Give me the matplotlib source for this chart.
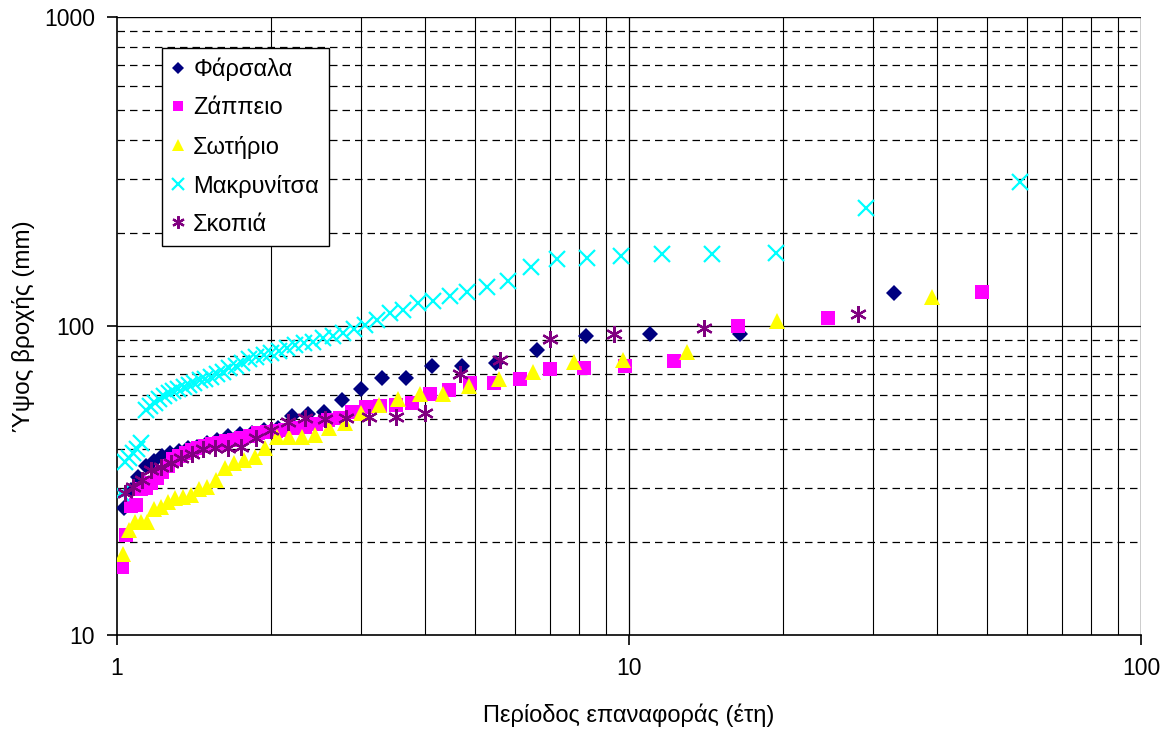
import matplotlib
matplotlib.use("Agg")
import matplotlib.pyplot as plt
from matplotlib.ticker import LogLocator, NullFormatter, FixedLocator, FixedFormatter

plt.rcParams['font.family'] = ['Liberation Sans', 'DejaVu Sans']

# ---- data: return period T (years) and rainfall height (mm) ----
farsala_T = [33.0, 16.5, 11.0, 8.25, 6.6, 5.5, 4.714, 4.125, 3.667, 3.3, 3.0, 2.75,
             2.538, 2.357, 2.2, 2.0625, 1.941, 1.833, 1.737, 1.65, 1.571, 1.5, 1.435,
             1.375, 1.32, 1.269, 1.222, 1.179, 1.138, 1.1, 1.0645, 1.031]
farsala_P = [128, 94.2, 94.5, 93, 83.6, 76, 74, 74, 68, 68, 62.7, 57.5,
             52.7, 52, 51, 46.7, 46, 45, 44.7, 44, 42.8, 41.7, 40.5,
             40.3, 39.4, 38.8, 37.9, 36.6, 35.3, 32.4, 29.5, 25.8]

zappeio_T = [49.0, 24.5, 16.33, 12.25, 9.8, 8.167, 7.0, 6.125, 5.444, 4.9, 4.4545,
             4.083, 3.769, 3.5, 3.267, 3.0625, 2.882, 2.722, 2.579, 2.45, 2.333,
             2.227, 2.13, 2.042, 1.96, 1.885, 1.815, 1.75, 1.69, 1.633, 1.581,
             1.531, 1.485, 1.441, 1.4, 1.361, 1.324, 1.289, 1.256, 1.225, 1.195,
             1.167, 1.1395, 1.1136, 1.0889, 1.0652, 1.0426, 1.0208]
zappeio_P = [128.8, 106, 100, 77, 74, 73, 72.5, 67.3, 65.5, 65.5, 62.1,
             60.4, 56.4, 55.5, 55.2, 54.8, 52.7, 50.4, 49.7, 48.2, 47.1,
             46.7, 46.1, 45.7, 45.3, 45.0, 44.1, 43.4, 42.8, 42.5, 41.7,
             41.5, 40.9, 40.3, 39.7, 38.8, 37.9, 37.1, 35.2, 33.7, 32.2,
             31.0, 29.9, 29.7, 26.3, 26.2, 21.1, 16.6]

sotirio_T = [39.0, 19.5, 13.0, 9.75, 7.8, 6.5, 5.571, 4.875, 4.333, 3.9, 3.545, 3.25,
             3.0, 2.786, 2.6, 2.4375, 2.294, 2.167, 2.053, 1.95, 1.857, 1.773, 1.696,
             1.625, 1.56, 1.5, 1.444, 1.393, 1.345, 1.3, 1.258, 1.219, 1.182, 1.147,
             1.114, 1.083, 1.054, 1.026]
sotirio_P = [124, 104, 82.5, 77.5, 76.5, 71.1, 67.3, 64, 60.4, 60.4, 58.1, 55.5,
             52.2, 48.5, 46.8, 44.4, 43.8, 43.8, 43.8, 40.3, 37.6, 36.8, 36.0,
             34.6, 31.7, 30.2, 29.7, 28.4, 27.9, 27.7, 26.9, 25.9, 25.6, 23.2,
             23.2, 23.2, 21.9, 18.3]

makrynitsa_T = [58.0, 29.0, 19.33, 14.5, 11.6, 9.667, 8.286, 7.25, 6.444, 5.8, 5.273,
                4.833, 4.462, 4.143, 3.867, 3.625, 3.412, 3.222, 3.053, 2.9, 2.762,
                2.636, 2.522, 2.417, 2.32, 2.231, 2.148, 2.071, 2.0, 1.933, 1.871,
                1.8125, 1.758, 1.706, 1.657, 1.611, 1.5676, 1.526, 1.487, 1.45, 1.415,
                1.381, 1.349, 1.318, 1.289, 1.261, 1.234, 1.208, 1.184, 1.16, 1.137,
                1.1154, 1.0943, 1.074, 1.0545, 1.0357, 1.0175]
makrynitsa_P = [292, 241, 172, 171, 171, 169, 166, 165, 155, 140, 134,
                129, 125, 120.6, 118.9, 113, 110.5, 104.6, 100.7, 97.8, 95,
                93, 91.5, 88.9, 88.3, 86.8, 84.9, 83.1, 81.8, 80.5, 79.3,
                78.1, 75.8, 74.2, 73.0, 71.0, 70.0, 68.5, 67.4, 66.9, 65.5,
                64.3, 63.4, 62.5, 61.6, 60.6, 59.4, 58.0, 56.4, 54.9, 53.6,
                41.7, 40.0, 38.8, 37.4, 36.3, 28.8]

skopia_T = [28.0, 14.0, 9.333, 7.0, 5.6, 4.667, 4.0, 3.5, 3.111, 2.8, 2.545, 2.333,
            2.154, 2.0, 1.867, 1.75, 1.647, 1.556, 1.474, 1.4, 1.333, 1.273, 1.217,
            1.1667, 1.12, 1.077, 1.037]
skopia_P = [109.4, 98.6, 94.4, 90.6, 77.5, 70, 52.3, 50.8, 50.8, 50.4, 50, 50.4,
            48.9, 46.1, 43.4, 40.6, 40.3, 40.3, 40.0, 38.5, 37.4, 36.0, 35.0,
            34.2, 31.8, 30.1, 28.8]

series_names = ['Φάρσαλα', 'Ζάππειο', 'Σωτήριο', 'Μακρυνίτσα', 'Σκοπιά']
x_label = 'Περίοδος επαναφοράς (έτη)'
y_label = 'Ύψος βροχής (mm)'
x_ticks = [1, 10, 100]
y_ticks = [10, 100, 1000]

fig = plt.figure(figsize=(11.71, 7.29), dpi=100)
ax = fig.add_axes([117/1171, 1 - 635/729, 1024/1171, 618/729])
ax.set_xscale('log')
ax.set_yscale('log')
ax.set_xlim(1, 100)
ax.set_ylim(10, 1000)

# grid
for d in (1, 10):
    for k in range(2, 10):
        ax.axvline(d * k, color='black', lw=0.8, zorder=0)
ax.axvline(10, color='black', lw=0.9, zorder=0)
ax.axvline(100, color='black', lw=1.0, zorder=0)
for d in (10, 100):
    for k in range(2, 10):
        ax.axhline(d * k, color='black', lw=0.9, ls=(0, (6, 4)), zorder=0)
ax.axhline(100, color='black', lw=0.9, zorder=0)
ax.axhline(1000, color='black', lw=1.0, zorder=0)

ms = dict(linestyle='none', zorder=3)
ax.plot(farsala_T, farsala_P, marker='D', color='#000080', markersize=8.5,
        markeredgewidth=0, label=series_names[0], **ms)
ax.plot(zappeio_T, zappeio_P, marker='s', color='#FF00FF', markersize=9.5,
        markeredgewidth=0, label=series_names[1], **ms)
ax.plot(sotirio_T, sotirio_P, marker='^', color='#FFFF00', markersize=11,
        markeredgewidth=0, label=series_names[2], **ms)
ax.plot(makrynitsa_T, makrynitsa_P, marker='x', color='#00FFFF', markersize=11,
        markeredgewidth=1.6, label=series_names[3], **ms)
ax.plot(skopia_T, skopia_P, marker=(6, 2, 0), color='#800080', markersize=12,
        markeredgewidth=1.6, label=series_names[4], **ms)

for s in ('top', 'right'):
    ax.spines[s].set_visible(False)
ax.spines['left'].set_linewidth(1.2)
ax.spines['bottom'].set_linewidth(1.2)

ax.xaxis.set_major_locator(FixedLocator(x_ticks))
ax.xaxis.set_major_formatter(FixedFormatter([str(v) for v in x_ticks]))
ax.yaxis.set_major_locator(FixedLocator(y_ticks))
ax.yaxis.set_major_formatter(FixedFormatter([str(v) for v in y_ticks]))
ax.xaxis.set_minor_locator(LogLocator(base=10, subs=range(2, 10)))
ax.yaxis.set_minor_locator(LogLocator(base=10, subs=range(2, 10)))
ax.xaxis.set_minor_formatter(NullFormatter())
ax.yaxis.set_minor_formatter(NullFormatter())
ax.tick_params(which='minor', length=0)
ax.tick_params(which='major', direction='out', length=7, width=1.2, labelsize=16.5,
               pad=9)

ax.set_xlabel(x_label, fontsize=17, labelpad=17)
ax.set_ylabel(y_label, fontsize=17.5, labelpad=6)

leg = ax.legend(loc='upper left', bbox_to_anchor=(45/1024, 1 - 31/618),
                fontsize=17, frameon=True, fancybox=False, edgecolor='black',
                framealpha=1, borderaxespad=0, labelspacing=0.68,
                handletextpad=0.35, borderpad=0.42, handlelength=0.55,
                markerscale=0.75)
leg.get_frame().set_linewidth(1.0)

fig.savefig('out.png', dpi=100)
